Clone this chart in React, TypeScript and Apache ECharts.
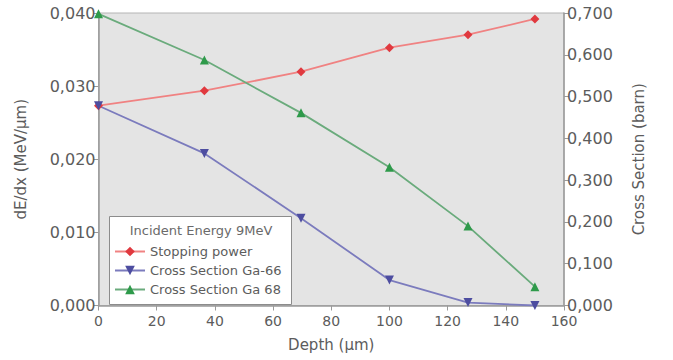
import React, { useEffect, useRef } from "react";
import * as echarts from "echarts";

const depths = [0, 36.4, 69.6, 100, 127, 150];
const stoppingPower = [0.02732, 0.02937, 0.03197, 0.03526, 0.03703, 0.03918];
const crossGa66 = [0.478, 0.364, 0.209, 0.061, 0.007, 0.0];
const crossGa68 = [0.698, 0.5875, 0.461, 0.331, 0.19, 0.045];
const seriesNames = ["Stopping power", "Cross Section Ga-66", "Cross Section Ga 68"];
const legendTitle = "Incident Energy 9MeV";

const FONT = "DejaVu Sans";
const TXT = "#5c5c5c";

const fmt = (v: number) => v.toFixed(3).replace(".", ",");

export default function App() {
  const ref = useRef<HTMLDivElement>(null);
  useEffect(() => {
    if (!ref.current) return;
    const chart = echarts.init(ref.current, undefined, { renderer: "svg" });
    const pair = (ys: number[]) => depths.map((d, i) => [d, ys[i]]);
    const axisCommon = {
      axisLine: { show: true, lineStyle: { color: "#9a9a9a", width: 1.5 } },
      axisTick: { show: true, length: 5, lineStyle: { color: "#9a9a9a" } },
      splitLine: { show: false },
      axisLabel: { color: TXT, fontFamily: FONT, fontSize: 15, margin: 3 },
      nameTextStyle: { color: TXT, fontFamily: FONT, fontSize: 15 },
    };
    chart.setOption({
      animation: false,
      backgroundColor: "#ffffff",
      textStyle: { fontFamily: FONT },
      grid: {
        left: 98.5,
        right: 109,
        top: 13,
        bottom: 54.5,
        show: true,
        backgroundColor: "#e4e4e4",
        borderColor: "#b4b4b4",
        borderWidth: 1,
      },
      xAxis: {
        type: "value",
        min: 0,
        max: 160,
        interval: 20,
        name: "Depth (μm)",
        nameLocation: "middle",
        nameGap: 32,
        ...axisCommon,
        axisLabel: { ...axisCommon.axisLabel, fontSize: 14, margin: 8, lineHeight: 14 },
      },
      yAxis: [
        {
          type: "value",
          position: "left",
          min: 0,
          max: 0.04,
          interval: 0.01,
          name: "dE/dx (MeV/μm)",
          nameLocation: "middle",
          nameRotate: 90,
          nameGap: 70,
          ...axisCommon,
          axisLabel: { ...axisCommon.axisLabel, fontSize: 16, lineHeight: 14, formatter: fmt },
        },
        {
          type: "value",
          position: "right",
          min: 0,
          max: 0.7,
          interval: 0.1,
          name: "Cross Section (barn)",
          nameLocation: "middle",
          nameRotate: 90,
          nameGap: 67,
          ...axisCommon,
          axisLabel: { ...axisCommon.axisLabel, fontSize: 16, lineHeight: 14, formatter: fmt },
        },
      ],
      legend: {
        orient: "vertical",
        left: 114,
        top: 245,
        padding: 0,
        itemWidth: 30,
        itemHeight: 12,
        itemGap: 6,
        z: 10,
        textStyle: { color: TXT, fontFamily: FONT, fontSize: 13, padding: [0, 0, 0, 0] },
        data: seriesNames,
      },
      graphic: [
        {
          type: "rect",
          z: 5,
          shape: { x: 109.5, y: 216.5, width: 182, height: 88 },
          style: { fill: "#ffffff", stroke: "#8c8c8c", lineWidth: 1 },
        },
        {
          type: "text",
          z: 6,
          x: 201,
          y: 230,
          style: {
            text: legendTitle,
            fill: "#6a6a6a",
            font: `13px "${FONT}"`,
            align: "center",
            verticalAlign: "middle",
          },
        },
      ],
      series: [
        {
          name: seriesNames[0],
          type: "line",
          yAxisIndex: 0,
          data: pair(stoppingPower),
          symbol: "diamond",
          symbolSize: 9,
          lineStyle: { color: "#f08282", width: 1.8 },
          itemStyle: { color: "#e0393f" },
        },
        {
          name: seriesNames[1],
          type: "line",
          yAxisIndex: 1,
          data: pair(crossGa66),
          symbol: "triangle",
          symbolRotate: 180,
          symbolSize: 9,
          lineStyle: { color: "#7b7bbd", width: 1.8 },
          itemStyle: { color: "#4d4da0" },
        },
        {
          name: seriesNames[2],
          type: "line",
          yAxisIndex: 1,
          data: pair(crossGa68),
          symbol: "triangle",
          symbolSize: 9,
          lineStyle: { color: "#6aab7c", width: 1.8 },
          itemStyle: { color: "#2e9a4a" },
        },
      ],
    });
    return () => chart.dispose();
  }, []);
  return (
    <div
      ref={ref}
      style={{ position: "absolute", left: 0, top: 0, width: 673, height: 360 }}
    />
  );
}
